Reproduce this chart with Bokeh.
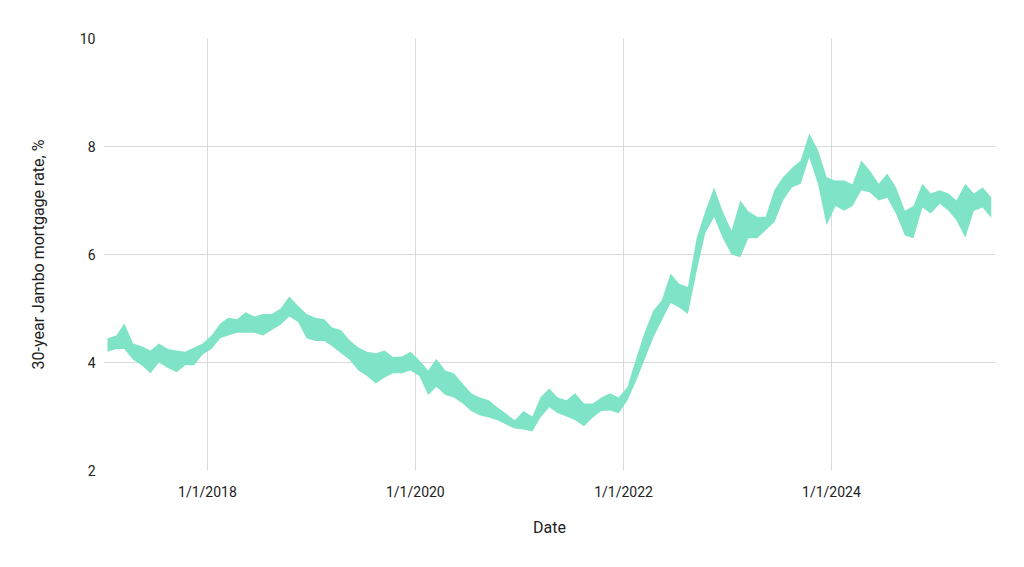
from datetime import date
import calendar
from bokeh.plotting import figure
from bokeh.models import FixedTicker, CustomJSTickFormatter, Range1d, ColumnDataSource
from bokeh.embed import file_html
from bokeh.resources import INLINE

# Monthly envelope (high / low) of the daily 30-year Jumbo mortgage rate (%)
rate_high = [
    # 2017
    4.45, 4.50, 4.72, 4.35, 4.30, 4.22, 4.35, 4.25, 4.22, 4.20, 4.28, 4.35,
    # 2018
    4.50, 4.72, 4.83, 4.80, 4.93, 4.85, 4.90, 4.90, 5.00, 5.22, 5.05, 4.90,
    # 2019
    4.83, 4.80, 4.65, 4.60, 4.41, 4.28, 4.20, 4.17, 4.22, 4.10, 4.11, 4.20,
    # 2020
    4.04, 3.85, 4.07, 3.85, 3.80, 3.61, 3.43, 3.35, 3.30, 3.17, 3.05, 2.93,
    # 2021
    3.10, 3.00, 3.35, 3.52, 3.35, 3.30, 3.43, 3.24, 3.24, 3.35, 3.43, 3.35,
    # 2022
    3.55, 4.09, 4.54, 4.96, 5.15, 5.65, 5.46, 5.40, 6.31, 6.80, 7.24, 6.80,
    # 2023
    6.44, 7.00, 6.80, 6.70, 6.70, 7.20, 7.43, 7.60, 7.74, 8.24, 7.93, 7.43,
    # 2024
    7.37, 7.37, 7.30, 7.74, 7.55, 7.31, 7.50, 7.24, 6.81, 6.90, 7.31, 7.13,
    # 2025
    7.19, 7.13, 7.00, 7.31, 7.13, 7.24, 7.06,
]

rate_low = [
    # 2017
    4.20, 4.25, 4.25, 4.05, 3.95, 3.80, 4.00, 3.90, 3.82, 3.95, 3.95, 4.15,
    # 2018
    4.25, 4.45, 4.50, 4.55, 4.55, 4.55, 4.50, 4.60, 4.70, 4.85, 4.75, 4.45,
    # 2019
    4.40, 4.40, 4.30, 4.17, 4.05, 3.85, 3.75, 3.61, 3.72, 3.80, 3.80, 3.85,
    # 2020
    3.75, 3.40, 3.55, 3.40, 3.35, 3.24, 3.10, 3.02, 2.98, 2.93, 2.85, 2.78,
    # 2021
    2.76, 2.72, 2.98, 3.17, 3.06, 3.00, 2.93, 2.82, 2.98, 3.10, 3.11, 3.06,
    # 2022
    3.30, 3.67, 4.04, 4.46, 4.78, 5.10, 5.02, 4.90, 5.70, 6.40, 6.69, 6.31,
    # 2023
    6.00, 5.95, 6.30, 6.30, 6.45, 6.60, 7.00, 7.24, 7.31, 7.80, 7.30, 6.54,
    # 2024
    6.90, 6.81, 6.90, 7.19, 7.15, 7.00, 7.05, 6.75, 6.35, 6.30, 6.87, 6.76,
    # 2025
    6.94, 6.81, 6.63, 6.31, 6.81, 6.87, 6.68,
]

x_tick_dates = [date(2018, 1, 1), date(2020, 1, 1), date(2022, 1, 1), date(2024, 1, 1)]
y_ticks = [2, 4, 6, 8, 10]

x_title = "Date"
y_title = "30-year Jambo mortgage rate, %"


def ms(d):
    return calendar.timegm(d.timetuple()) * 1000.0


# one envelope sample per month (mid-month)
xs = [ms(date(2017 + i // 12, i % 12 + 1, 15)) for i in range(len(rate_high))]
src = ColumnDataSource(dict(x=xs, lo=rate_low, hi=rate_high))

p = figure(
    width=1008, height=551,
    x_axis_type="datetime",
    output_backend="svg", toolbar_location=None,
    x_range=Range1d(ms(date(2017, 1, 1)), ms(date(2025, 7, 30))),
    y_range=Range1d(2, 10),
    min_border_left=103, min_border_right=13, min_border_top=38, min_border_bottom=81,
)
p.outline_line_color = None
p.background_fill_color = "white"
p.border_fill_color = "white"

p.varea("x", y1="lo", y2="hi", source=src, fill_color="#7fe3c8")

p.xaxis.ticker = FixedTicker(ticks=[ms(d) for d in x_tick_dates])
p.xaxis.formatter = CustomJSTickFormatter(code="""
const d = new Date(tick);
return (d.getUTCMonth()+1) + "/" + d.getUTCDate() + "/" + d.getUTCFullYear();
""")
p.yaxis.ticker = FixedTicker(ticks=y_ticks)

for ax in (p.xaxis[0], p.yaxis[0]):
    ax.axis_line_color = None
    ax.major_tick_line_color = None
    ax.minor_tick_line_color = None
    ax.major_tick_out = 0
    ax.major_tick_in = 0
    ax.minor_tick_out = 0
    ax.major_label_text_font = "Roboto"
    ax.major_label_text_font_size = "14px"
    ax.major_label_text_color = "#222222"
    ax.axis_label_text_font = "Roboto"
    ax.axis_label_text_font_size = "16px"
    ax.axis_label_text_font_style = "normal"
    ax.axis_label_text_color = "#222222"

p.xaxis.axis_label = x_title
p.yaxis.axis_label = y_title
p.xaxis.major_label_standoff = 13
p.xaxis.axis_label_standoff = 15
p.yaxis.major_label_standoff = 8
p.yaxis.axis_label_standoff = 29

p.xgrid.grid_line_color = "#d9d9d9"
p.ygrid.grid_line_color = "#d9d9d9"
p.xgrid.grid_line_width = 1
p.ygrid.grid_line_width = 1

open("out.html", "w").write(file_html(p, INLINE))
